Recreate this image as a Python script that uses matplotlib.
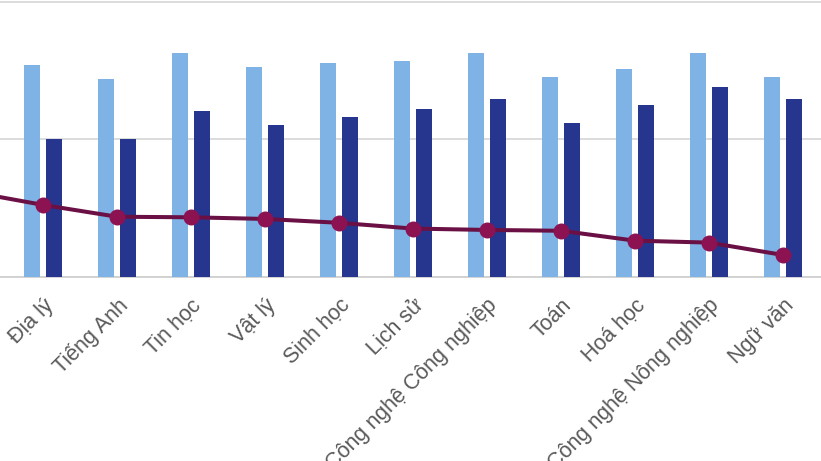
import matplotlib
matplotlib.use("Agg")
import matplotlib.pyplot as plt
import numpy as np

# Leading category is off-screen in the reference (only its line segment is visible)
categories = ["", "Địa lý", "Tiếng Anh", "Tin học", "Vật lý", "Sinh học", "Lịch sử",
              "Công nghệ Công nghiệp", "Toán", "Hoá học", "Công nghệ Nông nghiệp", "Ngữ văn"]
series_a = [np.nan, 7.70, 7.19, 8.15, 7.63, 7.77, 7.85, 8.15, 7.26, 7.55, 8.15, 7.26]
series_b = [np.nan, 5.01, 5.01, 6.03, 5.52, 5.81, 6.10, 6.46, 5.59, 6.24, 6.90, 6.46]
series_line = [3.10, 2.61, 2.18, 2.16, 2.10, 1.96, 1.75, 1.70, 1.67, 1.31, 1.24, 0.79]
yticks = [0, 5, 10]

W, H = 821, 461
fig = plt.figure(figsize=(W / 100, H / 100), dpi=100)
ax = fig.add_axes([0, (H - 276.7) / H, 1, 276.7 / H])

x = np.arange(len(categories)) - 1  # index 1 -> "Địa lý" at x=0
bw = 0.216
off = 0.149
ax.bar(x - off, series_a, width=bw, color="#7fb3e5", zorder=3)
ax.bar(x + off, series_b, width=bw, color="#26368f", zorder=3)
ax.plot(x, series_line, color="#6b1045", lw=2.9, zorder=4, solid_capstyle="round")
ax.plot(x[1:], series_line[1:], ls="none", marker="o", ms=10.5,
        color="#8c1252", mec="#8c1252", zorder=5)

ax.set_xticks(x)
ax.set_xticklabels(categories, rotation=45, ha="right", va="top",
                   rotation_mode="anchor", fontsize=15.5,
                   family=["Liberation Sans", "DejaVu Sans"], color="#595959")
ax.set_xlim(-0.581, 10.514)
ax.set_ylim(0, 10.06)
ax.set_yticks(yticks)
ax.yaxis.grid(True, color="#d9d9d9", lw=1.3, zorder=0)
ax.tick_params(axis="y", left=False, labelleft=False)
ax.tick_params(axis="x", length=0, pad=13)
for s in ["left", "right", "top"]:
    ax.spines[s].set_visible(False)
ax.spines["bottom"].set_color("#d0d0d0")
ax.spines["bottom"].set_linewidth(1.3)

fig.savefig("out.png", dpi=100)
